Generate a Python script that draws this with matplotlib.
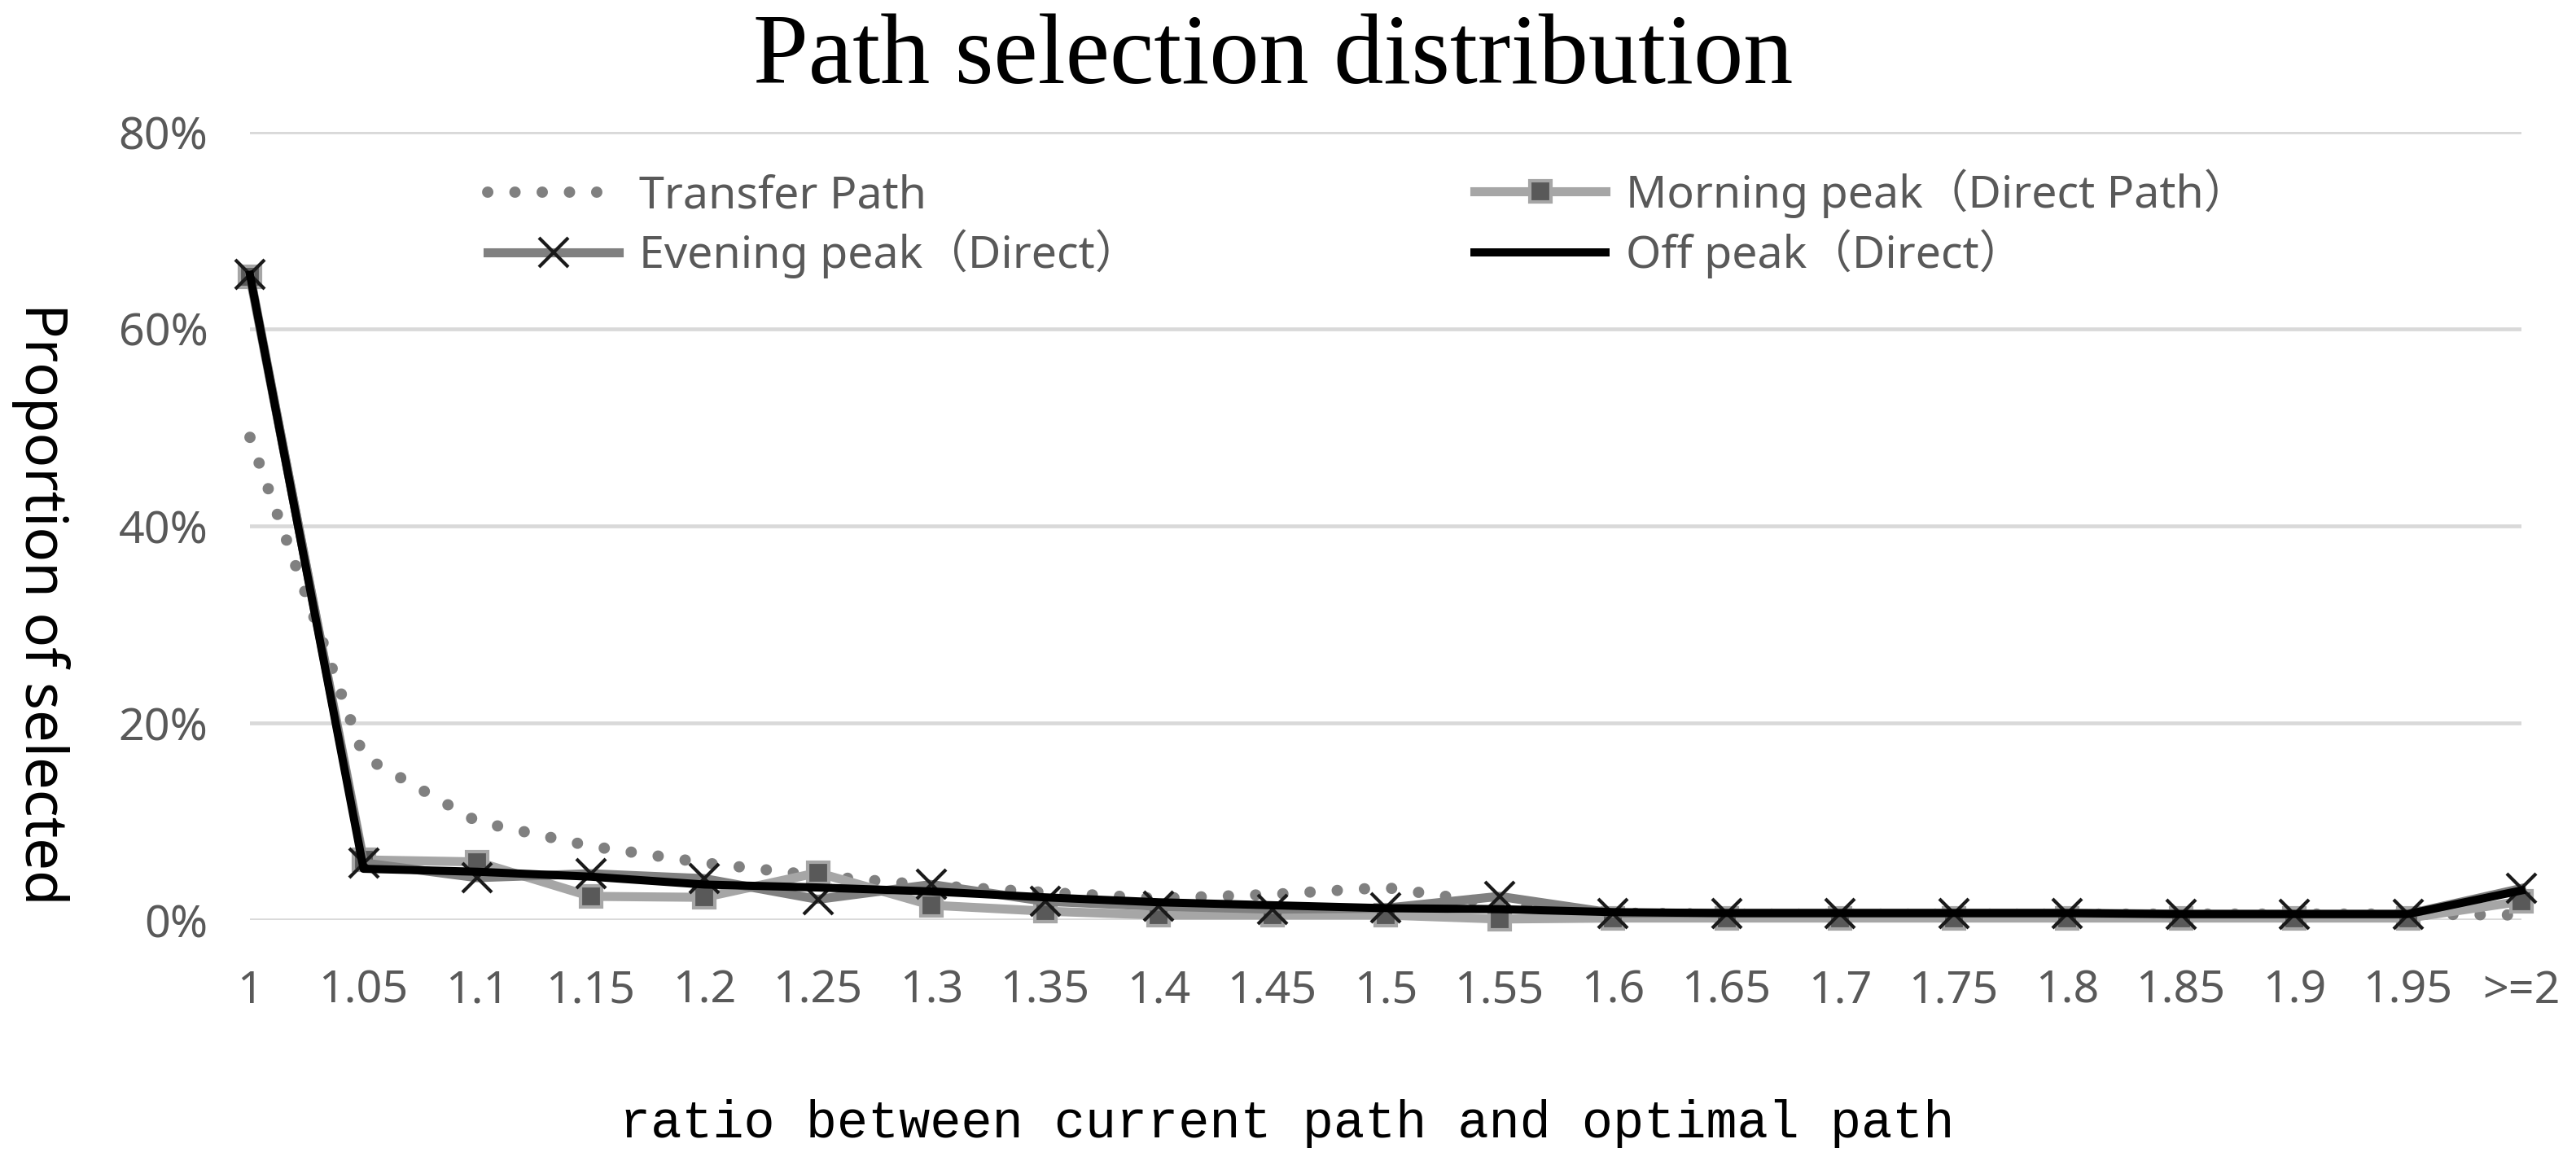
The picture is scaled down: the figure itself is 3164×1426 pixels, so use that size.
import matplotlib
matplotlib.use("Agg")
import matplotlib.pyplot as plt

# ratio categories on the x axis
categories = ['1', '1.05', '1.1', '1.15', '1.2', '1.25', '1.3', '1.35', '1.4', '1.45', '1.5',
              '1.55', '1.6', '1.65', '1.7', '1.75', '1.8', '1.85', '1.9', '1.95', '>=2']

# share of selected paths, in percent
transfer = [49.0, 16.6, 10.0, 7.5, 5.8, 4.5, 3.5, 2.8, 2.2, 2.6, 3.3,
            1.6, 0.7, 0.6, 0.6, 0.6, 0.6, 0.6, 0.6, 0.6, 0.5]
morning = [65.3, 6.1, 5.9, 2.4, 2.3, 4.8, 1.5, 0.9, 0.5, 0.5, 0.5,
           0.1, 0.2, 0.2, 0.2, 0.2, 0.2, 0.2, 0.2, 0.2, 1.9]
evening = [65.5, 5.8, 4.3, 4.7, 4.2, 2.1, 3.6, 1.9, 1.4, 1.1, 1.2,
           2.4, 0.7, 0.7, 0.7, 0.7, 0.7, 0.6, 0.6, 0.6, 3.2]
offpeak = [65.5, 5.2, 4.9, 4.4, 3.6, 3.3, 2.9, 2.3, 1.8, 1.5, 1.2,
           1.1, 0.8, 0.7, 0.7, 0.7, 0.7, 0.6, 0.6, 0.6, 3.0]

yticks = [0, 20, 40, 60, 80]

W, H = 3164, 1426
fig = plt.figure(figsize=(W / 100, H / 100), dpi=100)
ax = fig.add_axes([307 / W, 1 - 1130 / H, (3097 - 307) / W, (1130 - 162) / H])

sans = ['Noto Sans', 'Noto Sans CJK SC', 'DejaVu Sans']
x = list(range(len(categories)))

l_tr, = ax.plot(x, transfer, color='#808080', lw=10, linestyle=(0, (0.01, 2.4)),
                dash_capstyle='round', clip_on=False, zorder=3, label='Transfer Path')
l_mo, = ax.plot(x, morning, color='#a6a6a6', lw=8, marker='s', markersize=19,
                markerfacecolor='#595959', markeredgecolor='#a6a6a6', markeredgewidth=3,
                clip_on=False, zorder=4, label='Morning peak（Direct Path）')
l_ev, = ax.plot(x, evening, color='#808080', lw=8, marker='x', markersize=26,
                markeredgecolor='#1a1a1a', markeredgewidth=3,
                clip_on=False, zorder=5, label='Evening peak（Direct）')
l_off, = ax.plot(x, offpeak, color='black', lw=7.2, clip_on=False, zorder=6,
                 label='Off peak（Direct）')

ax.set_xlim(0, len(categories) - 1)
ax.set_ylim(0, 80)
ax.set_xticks(x)
ax.set_xticklabels(categories)
ax.set_yticks(yticks)
ax.set_yticklabels([f'{v}%' for v in yticks])
ax.grid(axis='y', color='#d9d9d9', lw=3.4, zorder=0)
ax.set_axisbelow(True)
for s in ax.spines.values():
    s.set_visible(False)
ax.tick_params(axis='x', length=0, pad=43, labelsize=40, labelcolor='#595959')
ax.tick_params(axis='y', length=0, pad=37, labelsize=40, labelcolor='#595959')
for lab in ax.get_xticklabels() + ax.get_yticklabels():
    lab.set_family(sans)

# legend in two separate columns
leg_kw = dict(loc='upper left', frameon=False, borderpad=0, borderaxespad=0,
              handlelength=2.9, handletextpad=0.45, labelspacing=0.25,
              prop={'family': sans, 'size': 40}, labelcolor='#595959')
leg1 = fig.legend([l_tr, l_ev], [l_tr.get_label(), l_ev.get_label()],
                  bbox_to_anchor=(599 / W, 1 - 213 / H), **leg_kw)
leg2 = fig.legend([l_mo, l_off], [l_mo.get_label(), l_off.get_label()],
                  bbox_to_anchor=(1811 / W, 1 - 207 / H), **leg_kw)

fig.text(1564 / W, 1 - 102 / H, 'Path selection distribution', ha='center', va='baseline',
         fontsize=88, family='Liberation Serif', color='black')
fig.text(1581 / W, 1 - 1397 / H, 'ratio between current path and optimal path',
         ha='center', va='baseline', fontsize=45.8, family='Liberation Mono', color='black')
fig.text(50 / W, 1 - 742 / H, 'Proportion of selected', rotation=-90, ha='center',
         va='center', fontsize=51, family='Noto Sans', color='black')

fig.savefig('out.png', dpi=100, facecolor='white')
